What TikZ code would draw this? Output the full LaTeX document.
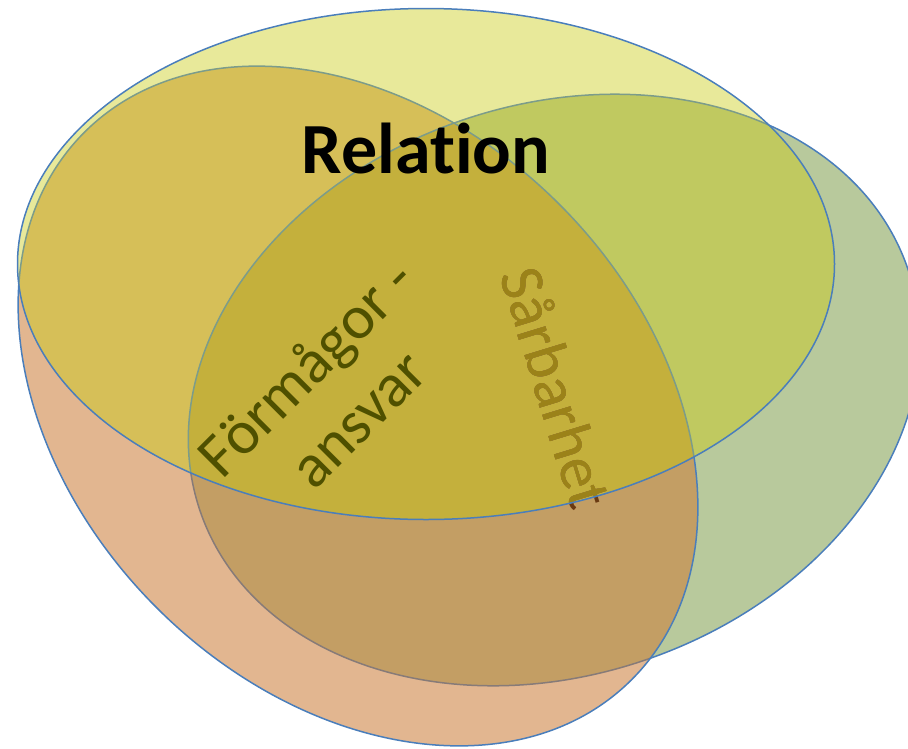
\documentclass[tikz,border=0pt]{standalone}
\usepackage{fontspec}
\setmainfont{Carlito}[Ligatures=NoCommon]
\definecolor{cY}{HTML}{E8E99A}
\definecolor{cO}{HTML}{E2B690}
\definecolor{cG}{HTML}{B8C99C}
\definecolor{cYO}{HTML}{D6BF58}
\definecolor{cYG}{HTML}{C0C960}
\definecolor{cYOG}{HTML}{C4B03C}
\definecolor{cOG}{HTML}{C39E64}
\definecolor{lblue}{HTML}{4A7EBB}
\definecolor{lunderY}{HTML}{7C9C8A}
\definecolor{lunderO}{HTML}{877B78}
\definecolor{tolive}{HTML}{4F5000}
\definecolor{tsar}{HTML}{9B8219}
\definecolor{tbrown}{HTML}{6A3A12}
\begin{document}
\begin{tikzpicture}[x=1pt,y=-1pt,
  Grot/.style={rotate around={19:(554,390)}},
  Orot/.style={rotate around={-45:(358,406)}},
  outl/.style={line width=1.5pt},
  bigtext/.style={font=\fontsize{62}{74}\selectfont, inner sep=0pt, anchor=base},
  reltext/.style={font=\fontsize{72}{86}\selectfont\bfseries, inner sep=0pt, anchor=base}]
\useasboundingbox (0,0) rectangle (908,748);
% green layer
\fill[cG, Grot] (554,390) ellipse [x radius=374, y radius=285];
\draw[lblue, outl, Grot] (554,390) ellipse [x radius=374, y radius=285];
% orange layer
\fill[cO, Orot] (358,406) ellipse [x radius=387, y radius=285];
\begin{scope}
  \clip[Orot] (358,406) ellipse [x radius=387, y radius=285];
  \fill[cOG, Grot] (554,390) ellipse [x radius=374, y radius=285];
  \draw[lunderO, outl, Grot] (554,390) ellipse [x radius=374, y radius=285];
\end{scope}
\draw[lblue, outl, Orot] (358,406) ellipse [x radius=387, y radius=285];
% yellow layer
\fill[cY] (426,264) ellipse [x radius=408.5, y radius=255.5];
\begin{scope}
  \clip (426,264) ellipse [x radius=408.5, y radius=255.5];
  \fill[cYG, Grot] (554,390) ellipse [x radius=374, y radius=285];
  \fill[cYO, Orot] (358,406) ellipse [x radius=387, y radius=285];
  \begin{scope}
    \clip[Orot] (358,406) ellipse [x radius=387, y radius=285];
    \fill[cYOG, Grot] (554,390) ellipse [x radius=374, y radius=285];
  \end{scope}
  \draw[lunderY, outl, Grot] (554,390) ellipse [x radius=374, y radius=285];
  \draw[lunderY, outl, Orot] (358,406) ellipse [x radius=387, y radius=285];
\end{scope}
% texts
\node[reltext, text=black] (rel) at (426,173) {Relation};
\node[bigtext, text=tolive, rotate=45] (f1) at (321,382) {Förmågor -};
\node[bigtext, text=tolive, rotate=45] (f2) at (372.5,433.5) {ansvar};
\node[bigtext, text=tbrown, rotate=-73] (sar) at (536,394) {Sårbarhet};
% the part of "Sårbarhet" inside the yellow ellipse is lighter (seen through it)
\begin{scope}[blend mode=lighten]
  \clip (426,264) ellipse [x radius=408.5, y radius=255.5];
  \fill[tsar, shift={(536,394)}, rotate=-73] (-134,-56) rectangle (134,22);
\end{scope}
\draw[lblue, outl] (426,264) ellipse [x radius=408.5, y radius=255.5];
\end{tikzpicture}
\end{document}
